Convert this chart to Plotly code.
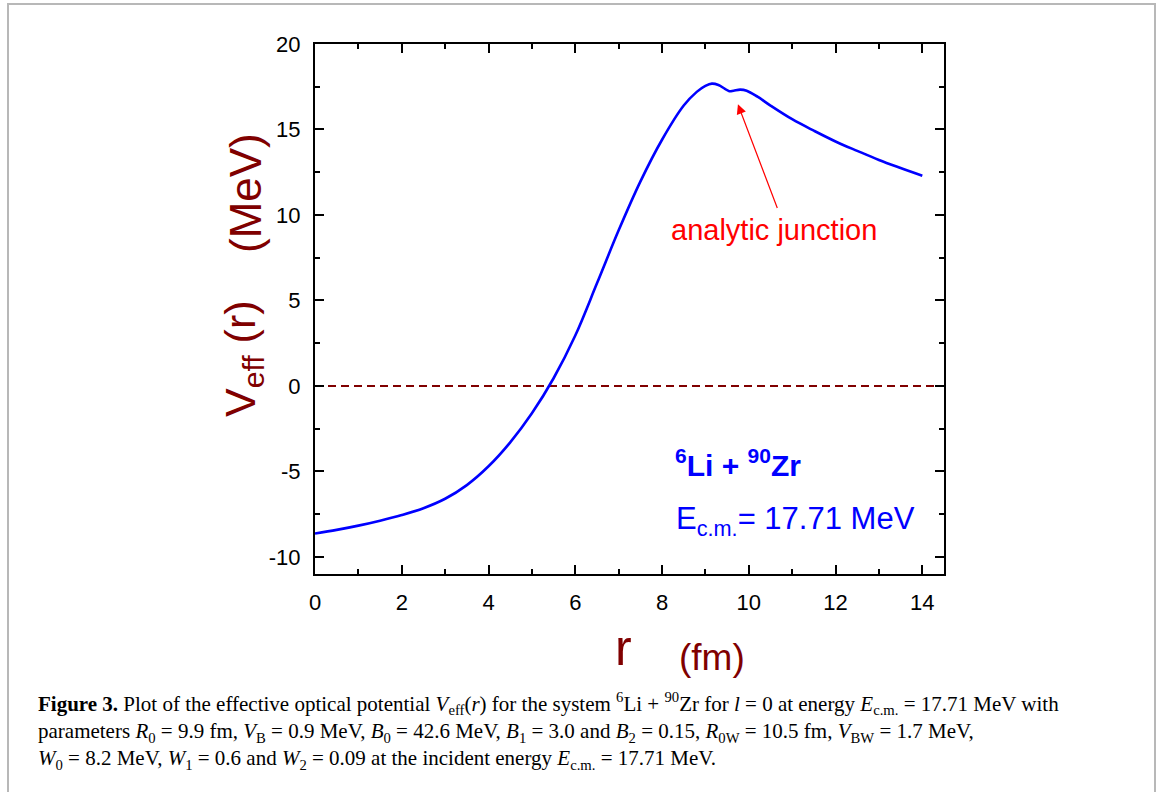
import plotly.graph_objects as go

# ---------------- data ----------------
r_fm = [0, 0.5, 1, 1.5, 2, 2.5, 3, 3.5, 4, 4.5, 5, 5.5, 6, 6.5, 7, 7.5, 8, 8.5,
        8.8, 9.0, 9.15, 9.3, 9.45, 9.55, 9.65, 9.8, 9.95, 10.2, 10.5, 11, 11.5,
        12, 12.5, 13, 13.5, 14]
v_eff = [-8.63, -8.42, -8.17, -7.88, -7.55, -7.15, -6.6, -5.8, -4.7, -3.3,
         -1.6, 0.45, 2.95, 6.0, 9.1, 11.95, 14.4, 16.4,
         17.2, 17.55, 17.68, 17.6, 17.38, 17.24, 17.27, 17.33, 17.27, 16.92,
         16.4, 15.6, 14.93, 14.3, 13.75, 13.22, 12.75, 12.3]
zero_x = [0, 14.5]
zero_y = [0, 0]

x_tickvals = [0, 2, 4, 6, 8, 10, 12, 14]
x_ticktext = ["0", "2", "4", "6", "8", "10", "12", "14"]
y_tickvals = [-10, -5, 0, 5, 10, 15, 20]
y_ticktext = ["-10", "-5", "0", "5", "10", "15", "20"]

caption_lines = [
    "<b>Figure 3.</b> Plot of the effective optical potential <i>V</i><sub>eff</sub>(<i>r</i>) for the system "
    "<sup>6</sup>Li + <sup>90</sup>Zr for <i>l</i> = 0 at energy <i>E</i><sub>c.m.</sub> = 17.71 MeV with",
    "parameters <i>R</i><sub>0</sub> = 9.9 fm, <i>V</i><sub>B</sub> = 0.9 MeV, <i>B</i><sub>0</sub> = 42.6 MeV, "
    "<i>B</i><sub>1</sub> = 3.0 and <i>B</i><sub>2</sub> = 0.15, <i>R</i><sub>0W</sub> = 10.5 fm, "
    "<i>V</i><sub>BW</sub> = 1.7 MeV,",
    "<i>W</i><sub>0</sub> = 8.2 MeV, <i>W</i><sub>1</sub> = 0.6 and <i>W</i><sub>2</sub> = 0.09 at the "
    "incident energy <i>E</i><sub>c.m.</sub> = 17.71 MeV.",
]

# ---------------- layout helpers ----------------
W, H = 1167, 792
L, R, T, B = 315, 223, 44, 218
PW, PH = W - L - R, H - T - B


def px(xp):
    return (xp - L) / PW


def py(yp):
    return (H - B - yp) / PH


SANS = "Arial, Liberation Sans, sans-serif"
SERIF = "Liberation Serif, Times New Roman, serif"
DARKRED = "#800000"

fig = go.Figure()
fig.add_trace(go.Scatter(x=zero_x, y=zero_y, mode="lines",
                         line=dict(color=DARKRED, width=2, dash="8px,5px"),
                         hoverinfo="skip", showlegend=False))
fig.add_trace(go.Scatter(x=r_fm, y=v_eff, mode="lines",
                         line=dict(color="#0000FF", width=2.6, shape="spline", smoothing=1.0),
                         showlegend=False))

axis_common = dict(showline=True, linecolor="black", linewidth=2, mirror="ticks",
                   ticks="inside", ticklen=9, tickwidth=2, tickcolor="black",
                   showgrid=False, zeroline=False,
                   tickfont=dict(family=SANS, size=22, color="black"),
                   ticklabelstandoff=8)

fig.update_xaxes(range=[0, 14.5], tickvals=x_tickvals, ticktext=x_ticktext,
                 minor=dict(dtick=1, ticks="inside", ticklen=5, tickwidth=2, tickcolor="black"),
                 **axis_common)
fig.update_yaxes(range=[-11, 20], tickvals=y_tickvals, ticktext=y_ticktext,
                 minor=dict(dtick=2.5, tick0=0, ticks="inside", ticklen=5, tickwidth=2, tickcolor="black"),
                 **axis_common)

ann = []
# arrow
ann.append(dict(x=9.75, y=16.47, xref="x", yref="y", ax=10.67, ay=10.32, axref="x", ayref="y",
                text="", showarrow=True, arrowhead=2, arrowsize=1.6, arrowwidth=1.2,
                arrowcolor="#FF0000"))
ann.append(dict(x=px(774), y=py(230), xref="paper", yref="paper", showarrow=False,
                text="analytic junction", xanchor="center", yanchor="middle",
                font=dict(family=SANS, size=29, color="#FF0000")))
ann.append(dict(x=px(673), y=py(463), xref="paper", yref="paper", showarrow=False,
                text="<b><sup>6</sup>Li + <sup>90</sup>Zr</b>", xanchor="left", yanchor="middle",
                font=dict(family=SANS, size=30, color="#0000FF")))
ann.append(dict(x=px(674), y=py(521), xref="paper", yref="paper", showarrow=False,
                text="E<sub>c.m.</sub>= 17.71 MeV", xanchor="left", yanchor="middle",
                font=dict(family=SANS, size=31, color="#0000FF")))
# axis titles
ann.append(dict(x=px(623), y=py(648), xref="paper", yref="paper", showarrow=False,
                text="r", xanchor="center", yanchor="middle",
                font=dict(family=SANS, size=50, color=DARKRED)))
ann.append(dict(x=px(712), y=py(657), xref="paper", yref="paper", showarrow=False,
                text="(fm)", xanchor="center", yanchor="middle",
                font=dict(family=SANS, size=37, color=DARKRED)))
ann.append(dict(x=px(243), y=py(359), xref="paper", yref="paper", showarrow=False,
                text="V<sub>eff</sub>\u00a0(r)", textangle=-90, xanchor="center", yanchor="middle",
                font=dict(family=SANS, size=43, color=DARKRED)))
ann.append(dict(x=px(245), y=py(193), xref="paper", yref="paper", showarrow=False,
                text="(MeV)", textangle=-90, xanchor="center", yanchor="middle",
                font=dict(family=SANS, size=44, color=DARKRED)))
# caption (one block)
ann.append(dict(x=px(36), y=py(731), xref="paper", yref="paper", showarrow=False,
                text="<br>".join(caption_lines), xanchor="left", yanchor="middle", align="left",
                font=dict(family=SERIF, size=21, color="black")))

fig.update_layout(
    width=W, height=H, autosize=False,
    margin=dict(l=L, r=R, t=T, b=B, pad=0),
    paper_bgcolor="white", plot_bgcolor="white",
    annotations=ann,
    shapes=[dict(type="rect", xref="paper", yref="paper",
                 x0=px(8), x1=px(1155), y0=py(4), y1=py(810),
                 line=dict(color="#b8b8b8", width=2), fillcolor="rgba(0,0,0,0)", layer="below")],
)

fig.write_html("out.html")
